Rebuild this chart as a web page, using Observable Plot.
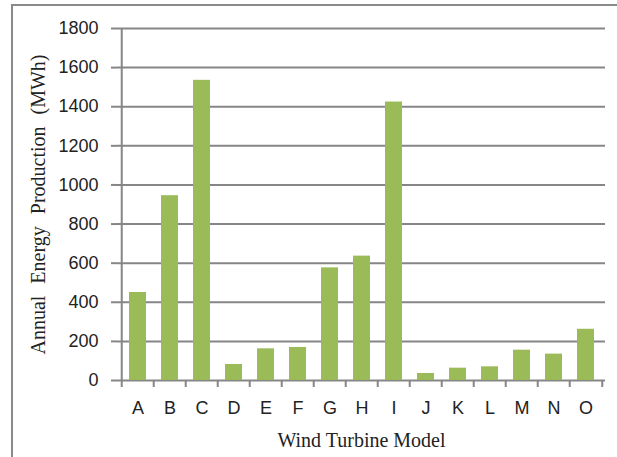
<!DOCTYPE html>
<html>
<head>
<meta charset="utf-8">
<script src="https://cdn.jsdelivr.net/npm/d3@7"></script>
<script src="https://cdn.jsdelivr.net/npm/@observablehq/plot@0.6"></script>
<style>
  html, body { margin: 0; padding: 0; background: #fff; }
  #wrap { position: relative; width: 617px; height: 457px; overflow: hidden; }
  #border { position: absolute; left: 11px; top: 4px; width: 620px; height: 470px;
            border-top: 2px solid #8a8a8a; border-left: 2px solid #8a8a8a; pointer-events: none; }
</style>
</head>
<body>
<div id="wrap"><div id="border"></div></div>
<script>
const models = ["A","B","C","D","E","F","G","H","I","J","K","L","M","N","O"];
const energy = [450, 945, 1535, 82, 162, 169, 576, 636, 1424, 36, 63, 70, 155, 135, 262];
const yTicks = [0, 200, 400, 600, 800, 1000, 1200, 1400, 1600, 1800];
const xTitle = "Wind Turbine Model";
const yTitle = "Annual Energy Production (MWh)";

const data = models.map((m, i) => ({model: m, value: energy[i]}));

const W = 617, H = 457, ML = 117, MR = 12, MT = 28, MB = 77;
const step = (W - ML - MR) / models.length;
const grey = "#868686";
const sans = "Liberation Sans, Arial, sans-serif";
const serif = "Liberation Serif, Times New Roman, serif";

const chart = Plot.plot({
  width: W, height: H,
  marginLeft: ML, marginRight: MR, marginTop: MT, marginBottom: MB,
  style: {background: "transparent", overflow: "visible"},
  x: {type: "band", domain: models, paddingInner: 0.47, paddingOuter: 0.235, axis: null},
  y: {domain: [0, 1800], axis: null},
  marks: [
    Plot.ruleY(yTicks, {stroke: grey, strokeWidth: 2}),
    Plot.ruleX([models[0]], {dx: -step / 2, y1: 0, y2: 1800, stroke: grey, strokeWidth: 2}),
    Plot.barY(data, {x: "model", y: "value", fill: "#9BBB59"}),
    Plot.axisY(yTicks, {tickSize: 6, tickPadding: 13, stroke: grey, strokeWidth: 2,
      fill: "#222", fontSize: 18, fontFamily: sans, label: null, tickFormat: d => String(d)}),
    Plot.axisX(models, {tickSize: 7, tickFormat: () => "", dx: -step / 2, stroke: grey, strokeWidth: 2, label: null}),
    Plot.axisX([models[models.length - 1]], {tickSize: 7, tickFormat: () => "", dx: step / 2, stroke: grey, strokeWidth: 2, label: null}),
    Plot.axisX(models, {tickSize: 0, tickPadding: 21, fill: "#222", fontSize: 18, fontFamily: sans, label: null}),
    Plot.text([yTitle], {frameAnchor: "left", rotate: -90, dx: -79, textAnchor: "middle", lineAnchor: "middle",
      fontFamily: serif, fontSize: 20, fill: "#222", text: d => d, style: "word-spacing: 7px"}),
    Plot.text([xTitle], {frameAnchor: "bottom", dy: 60, textAnchor: "middle", lineAnchor: "middle",
      fontFamily: serif, fontSize: 20, fill: "#222", text: d => d})
  ]
});
chart.querySelectorAll("text").forEach(t => { if (t.textContent === yTitle) t.style.wordSpacing = "7px"; });
document.getElementById("wrap").appendChild(chart);
chart.style.position = "absolute";
chart.style.left = "0";
chart.style.top = "0";
</script>
</body>
</html>
